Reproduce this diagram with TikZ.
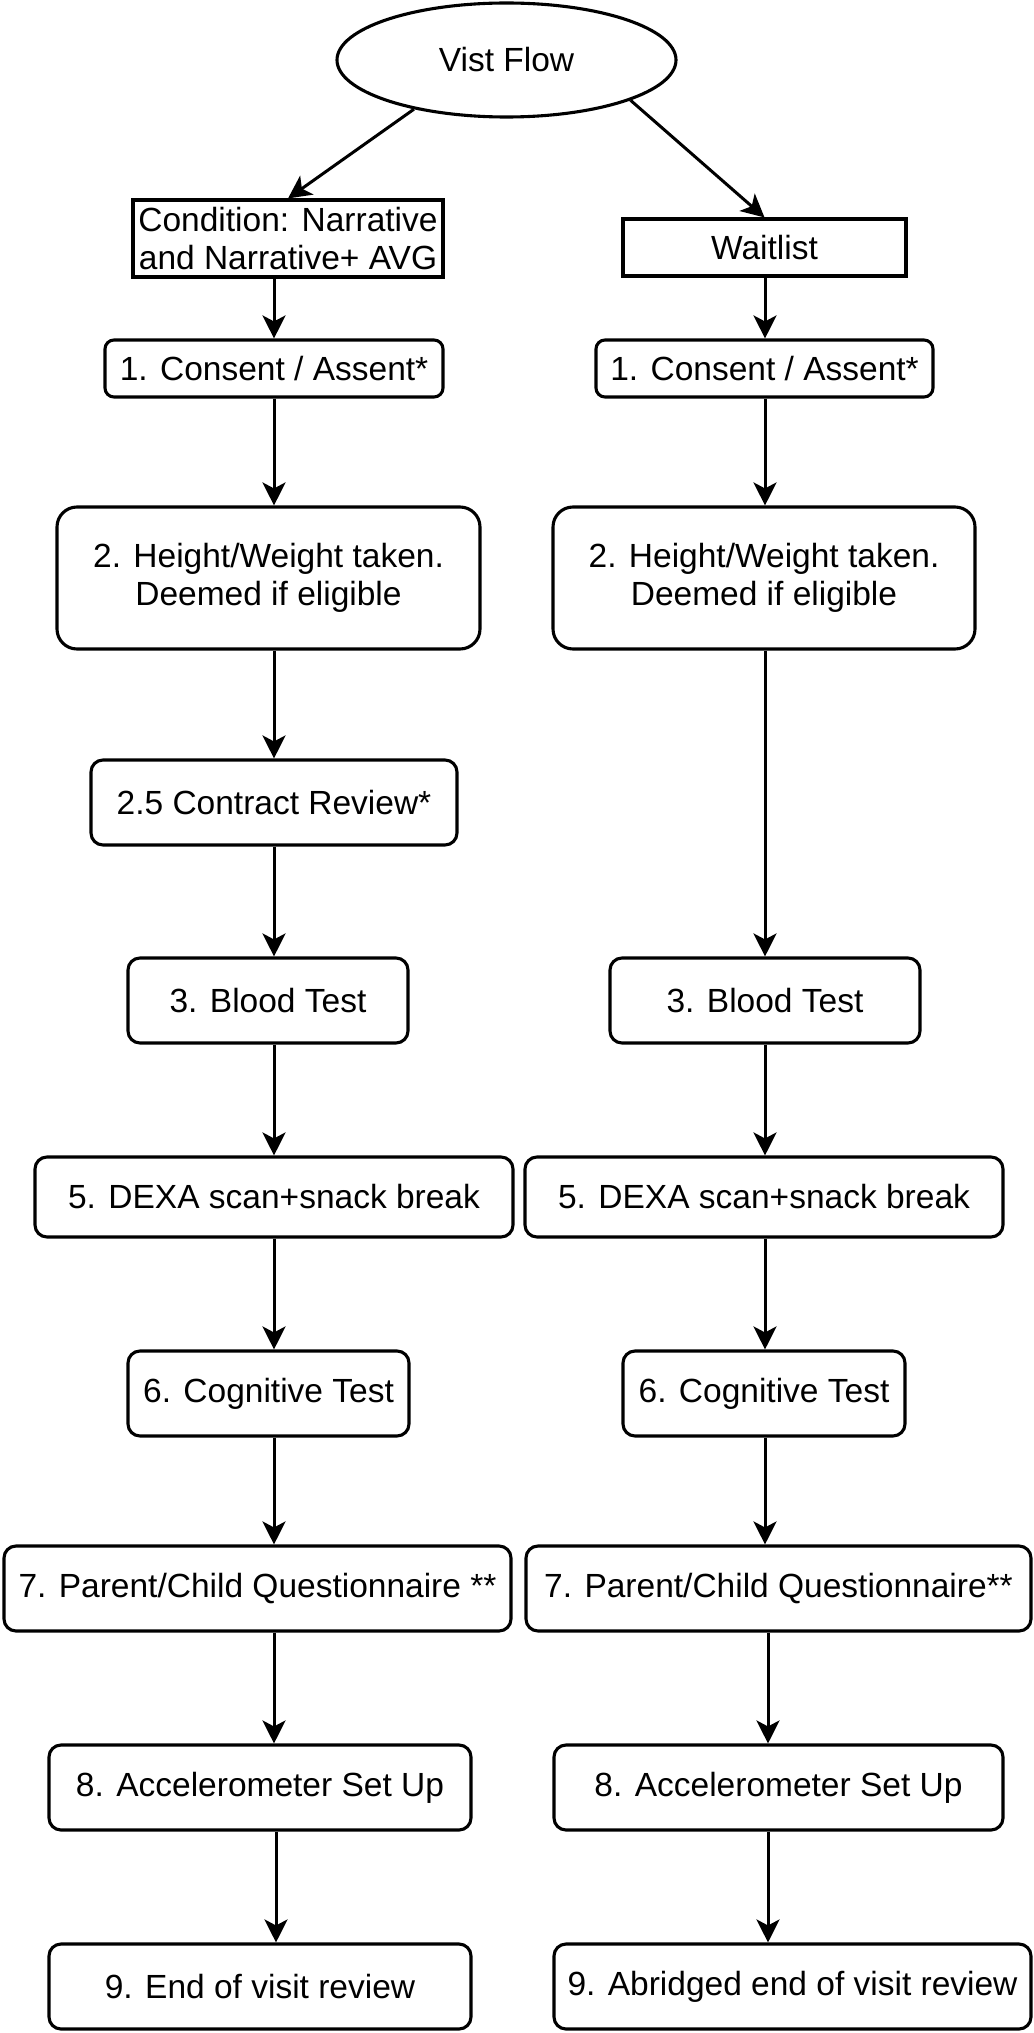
\documentclass[tikz,border=0pt]{standalone}
\usepackage{fontspec}
\setmainfont{Liberation Sans}
\usetikzlibrary{arrows.meta,shapes.geometric}
\begin{document}
\begin{tikzpicture}[x=1pt,y=-1pt,
  base/.style={draw=black, line width=3.1pt, inner sep=0pt, align=center,
    font=\fontsize{33.5}{38}\selectfont, text=black},
  sq/.style={base, rectangle},
  rr/.style={base, rectangle, rounded corners=12pt},
  oval/.style={base, ellipse},
  arr/.style={line width=3pt, -{Stealth[length=23pt,width=23pt,inset=6pt]}}
]
\useasboundingbox[fill=white] (0,0) rectangle (1033,2033);

% column guides
\coordinate (L) at (274,0);
\coordinate (L2) at (276,0);
\coordinate (R) at (765,0);
\coordinate (R2) at (768,0);

% top
\node[oval, minimum width=339pt, minimum height=114pt] (vf) at (506.5,60) {Vist Flow};
\node[sq, minimum width=310pt, minimum height=77pt] (condL) at (288,238.5) {Condition: Narrative\\and Narrative+ AVG};
\node[sq, minimum width=283pt, minimum height=57pt] (waitR) at (764.5,247.5) {Waitlist};

% left column
\node[rr, rounded corners=9pt, minimum width=338pt, minimum height=57pt] (c1L) at (274,368.5) {1. Consent / Assent*};
\node[rr, rounded corners=20pt, minimum width=423pt, minimum height=142pt] (h2L) at (268.5,578) {2. Height/Weight taken.\\Deemed if eligible};
\node[rr, minimum width=366pt, minimum height=85pt] (crL) at (274,802.5) {2.5 Contract Review*};
\node[rr, minimum width=280pt, minimum height=85pt] (b3L) at (268,1000.5) {3. Blood Test};
\node[rr, minimum width=478pt, minimum height=80pt] (d5L) at (274,1197) {5. DEXA scan+snack break};
\node[rr, minimum width=281pt, minimum height=85pt] (g6L) at (268.5,1393.5) {6. Cognitive Test};
\node[rr, minimum width=507pt, minimum height=85pt] (p7L) at (257.5,1588.5) {7. Parent/Child Questionnaire **};
\node[rr, minimum width=422pt, minimum height=85pt] (a8L) at (260,1787.5) {8. Accelerometer Set Up};
\node[rr, minimum width=422pt, minimum height=85pt] (e9L) at (260,1986.5) {9. End of visit review};

% right column
\node[rr, rounded corners=9pt, minimum width=337pt, minimum height=57pt] (c1R) at (764.5,368.5) {1. Consent / Assent*};
\node[rr, rounded corners=20pt, minimum width=422pt, minimum height=142pt] (h2R) at (764,578) {2. Height/Weight taken.\\Deemed if eligible};
\node[rr, minimum width=310pt, minimum height=85pt] (b3R) at (765,1000.5) {3. Blood Test};
\node[rr, minimum width=478pt, minimum height=80pt] (d5R) at (764,1197) {5. DEXA scan+snack break};
\node[rr, minimum width=282pt, minimum height=85pt] (g6R) at (764,1393.5) {6. Cognitive Test};
\node[rr, minimum width=505pt, minimum height=85pt] (p7R) at (778.5,1588.5) {7. Parent/Child Questionnaire**};
\node[rr, minimum width=449pt, minimum height=85pt] (a8R) at (778.5,1787.5) {8. Accelerometer Set Up};
\node[rr, minimum width=477pt, minimum height=85pt] (e9R) at (792.5,1986.5) {9. Abridged end of visit review};

% connectors
\draw[arr] (vf.208) -- (condL.north);
\draw[arr] (vf.342) -- (waitR.north);

\draw[arr] (condL.south -| L) -- (c1L.north -| L);
\draw[arr] (c1L.south -| L) -- (h2L.north -| L);
\draw[arr] (h2L.south -| L) -- (crL.north -| L);
\draw[arr] (crL.south -| L) -- (b3L.north -| L);
\draw[arr] (b3L.south -| L) -- (d5L.north -| L);
\draw[arr] (d5L.south -| L) -- (g6L.north -| L);
\draw[arr] (g6L.south -| L) -- (p7L.north -| L);
\draw[arr] (p7L.south -| L) -- (a8L.north -| L);
\draw[arr] (a8L.south -| L2) -- (e9L.north -| L2);

\draw[arr] (waitR.south -| R) -- (c1R.north -| R);
\draw[arr] (c1R.south -| R) -- (h2R.north -| R);
\draw[arr] (h2R.south -| R) -- (b3R.north -| R);
\draw[arr] (b3R.south -| R) -- (d5R.north -| R);
\draw[arr] (d5R.south -| R) -- (g6R.north -| R);
\draw[arr] (g6R.south -| R) -- (p7R.north -| R);
\draw[arr] (p7R.south -| R2) -- (a8R.north -| R2);
\draw[arr] (a8R.south -| R2) -- (e9R.north -| R2);
\end{tikzpicture}
\end{document}
